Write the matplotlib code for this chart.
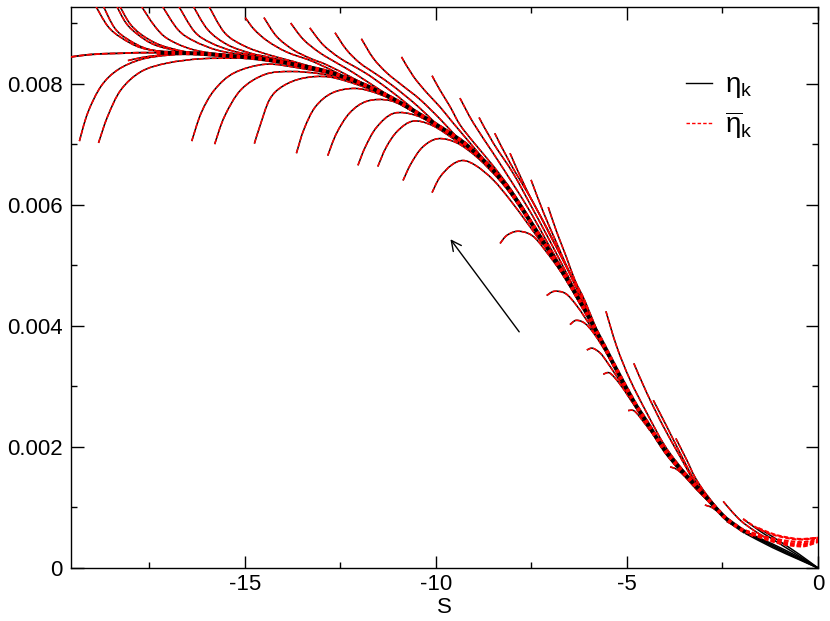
import matplotlib
matplotlib.use("Agg")
import numpy as np
import matplotlib.pyplot as plt
from matplotlib.lines import Line2D
from matplotlib.path import Path
from matplotlib.patches import PathPatch

plt.rcParams['font.family'] = ['Liberation Sans', 'DejaVu Sans']
plt.rcParams['axes.unicode_minus'] = False
plt.rcParams['mathtext.fontset'] = 'custom'
plt.rcParams['mathtext.rm'] = 'Liberation Sans'
plt.rcParams['mathtext.it'] = 'Liberation Sans'
plt.rcParams['mathtext.bf'] = 'Liberation Sans:bold'

# ---------------- data (s, eta) ----------------
x_ticks = [-15, -10, -5, 0]
x_tick_labels = ['-15', '-10', '-5', '0']
y_ticks = [0, 0.002, 0.004, 0.006, 0.008]
y_tick_labels = ['0', '0.002', '0.004', '0.006', '0.008']
legend_labels = [r'$\eta_k$', r'$\overline{\eta}_k$']
x_label = 'S'

master_left = [(-19.55, 0.00844), (-19.2, 0.00847), (-18.8, 0.00849), (-18.3, 0.0085),
               (-17.8, 0.00851), (-17.3, 0.00851)]
master = [(-17.3, 0.00851), (-16.36, 0.0085), (-15.47, 0.00846), (-14.61, 0.00841),
          (-13.74, 0.00832), (-12.86, 0.0082), (-11.99, 0.00801), (-11.12, 0.00775),
          (-10.24, 0.00742), (-9.37, 0.00707), (-8.94, 0.00684), (-8.5, 0.00657),
          (-8.06, 0.00623), (-7.63, 0.00582), (-7.28, 0.00548), (-6.93, 0.00513),
          (-6.41, 0.0046), (-5.79, 0.0039), (-5.36, 0.00338), (-4.84, 0.00277),
          (-4.48, 0.00241), (-3.95, 0.00189), (-3.35, 0.00146), (-2.9, 0.00115),
          (-2.48, 0.00086), (-2.2, 0.00072), (-1.9, 0.00059)]

# upper branches (start above the attractor)
U01 = [(-18.92, 0.0093), (-18.59, 0.00895), (-18.24, 0.00876), (-17.71, 0.00859), (-17.02, 0.00852), (-16.4, 0.0085)]
U02 = [(-18.72, 0.0093), (-18.41, 0.00892), (-18.06, 0.00873), (-17.54, 0.00857), (-16.84, 0.00851), (-16.2, 0.00849)]
U03 = [(-18.37, 0.0093), (-18.11, 0.009), (-17.8, 0.00881), (-17.36, 0.00864), (-16.67, 0.00853), (-16.0, 0.00849)]
U04 = [(-18.29, 0.0093), (-18.02, 0.009), (-17.71, 0.00881), (-17.23, 0.00864), (-16.58, 0.00853), (-15.9, 0.00848)]
U05 = [(-17.73, 0.0093), (-17.36, 0.00895), (-17.02, 0.00874), (-16.41, 0.00857), (-15.71, 0.00849), (-15.0, 0.00845)]
U06 = [(-17.18, 0.0093), (-16.75, 0.00889), (-16.32, 0.0087), (-15.71, 0.00855), (-15.01, 0.00847), (-14.3, 0.00839)]
U07 = [(-16.75, 0.0093), (-16.32, 0.00886), (-15.88, 0.00867), (-15.27, 0.00853), (-14.57, 0.00845), (-13.9, 0.00836)]
U08 = [(-16.37, 0.0093), (-15.97, 0.00889), (-15.45, 0.00864), (-14.84, 0.0085), (-14.4, 0.00844), (-13.6, 0.00832)]
U09 = [(-15.96, 0.0093), (-15.53, 0.00884), (-15.01, 0.00862), (-14.4, 0.00848), (-13.7, 0.00836), (-13.0, 0.00823)]
U10 = [(-14.99, 0.00909), (-14.75, 0.00889), (-14.4, 0.0087), (-13.9, 0.00852), (-13.2, 0.00836), (-12.5, 0.00815)]
U11 = [(-14.5, 0.00909), (-14.17, 0.00878), (-13.74, 0.00856), (-13.3, 0.00842), (-12.86, 0.00831), (-12.2, 0.0081), (-11.6, 0.0079)]
U12 = [(-13.8, 0.009), (-13.47, 0.00873), (-13.04, 0.00851), (-12.51, 0.00831), (-12.16, 0.00818), (-11.5, 0.00791), (-11.0, 0.00771)]
U13 = [(-13.3, 0.00892), (-12.95, 0.00864), (-12.51, 0.00842), (-11.99, 0.00823), (-11.64, 0.00809), (-11.0, 0.00779), (-10.5, 0.00753)]
U14 = [(-12.64, 0.00884), (-12.34, 0.00856), (-11.99, 0.00834), (-11.55, 0.00815), (-11.12, 0.00796), (-10.5, 0.00764), (-10.0, 0.00734)]
U15 = [(-11.95, 0.00874), (-11.64, 0.00842), (-11.29, 0.00818), (-10.86, 0.00796), (-10.42, 0.00774), (-9.9, 0.00742), (-9.4, 0.00708)]
U16 = [(-10.9, 0.00844), (-10.59, 0.00812), (-10.24, 0.00785), (-9.9, 0.00762), (-9.55, 0.00735), (-9.0, 0.00694), (-8.6, 0.00664)]
U17 = [(-10.1, 0.00813), (-9.9, 0.0079), (-9.63, 0.00762), (-9.37, 0.00732), (-9.0, 0.00702), (-8.5, 0.00664), (-8.0, 0.00622), (-7.5, 0.00573)]
U18 = [(-9.37, 0.00776), (-9.02, 0.00735), (-8.5, 0.00685), (-8.0, 0.00636), (-7.5, 0.00585), (-7.0, 0.00528), (-6.5, 0.00473)]
U19 = [(-8.87, 0.00744), (-8.5, 0.00702), (-7.98, 0.00652), (-7.5, 0.00597), (-7.0, 0.00538), (-6.5, 0.00477), (-6.0, 0.00416)]
U20 = [(-8.46, 0.00718), (-8.06, 0.00669), (-7.45, 0.00603), (-7.0, 0.00548), (-6.6, 0.005), (-6.3, 0.00462), (-5.9, 0.00403)]
U21 = [(-8.06, 0.00685), (-7.63, 0.00625), (-7.1, 0.00562), (-6.7, 0.00512), (-6.35, 0.00466), (-5.9, 0.00404)]
U22 = [(-7.51, 0.00641), (-7.19, 0.00588), (-6.85, 0.00538), (-6.5, 0.00488), (-6.2, 0.0045), (-5.8, 0.00392)]
U23 = [(-7.06, 0.00596), (-6.85, 0.00557), (-6.6, 0.00516), (-6.36, 0.00475), (-6.1, 0.00441), (-5.7, 0.00379)]
U24 = [(-5.55, 0.00424), (-5.27, 0.00366), (-4.92, 0.00311), (-4.48, 0.00256), (-4.0, 0.00201), (-3.5, 0.00159)]
U25 = [(-4.82, 0.00338), (-4.48, 0.00289), (-4.05, 0.00234), (-3.61, 0.00184), (-3.2, 0.00139), (-2.8, 0.00109)]
U26 = [(-4.31, 0.00277), (-3.96, 0.00234), (-3.61, 0.0019), (-3.26, 0.00148), (-2.9, 0.00118)]
U27 = [(-3.72, 0.00214), (-3.44, 0.00179), (-3.22, 0.0015), (-2.95, 0.00124), (-2.6, 0.00096)]
U28 = [(-2.48, 0.0011), (-2.25, 0.00093), (-2.0, 0.00077), (-1.7, 0.00063), (-1.4, 0.00051)]

# lower branches (start below the attractor)
L00 = [(-18.06, 0.00838), (-17.7, 0.00843), (-17.2, 0.00847), (-16.6, 0.00849)]
L01 = [(-19.33, 0.00705), (-19.11, 0.00752), (-18.76, 0.00796), (-18.32, 0.00823), (-17.71, 0.0084), (-17.0, 0.00847), (-16.3, 0.00849)]
L02 = [(-18.83, 0.00702), (-18.59, 0.00746), (-18.24, 0.0079), (-17.71, 0.0082), (-17.02, 0.00834), (-16.15, 0.00841), (-15.2, 0.00842)]
L03 = [(-16.39, 0.00705), (-16.14, 0.00752), (-15.79, 0.0079), (-15.27, 0.00818), (-14.45, 0.00832), (-13.6, 0.00826), (-12.8, 0.00817)]
L04 = [(-15.79, 0.007), (-15.53, 0.00746), (-15.1, 0.0079), (-14.48, 0.00815), (-13.8, 0.0082), (-13.0, 0.00816), (-12.3, 0.00806), (-11.7, 0.00792)]
L05 = [(-14.75, 0.00701), (-14.61, 0.00729), (-14.35, 0.00774), (-14.0, 0.00796), (-13.47, 0.00809), (-12.8, 0.00811), (-12.0, 0.00797), (-11.3, 0.00779)]
L06 = [(-13.65, 0.00685), (-13.45, 0.00725), (-13.15, 0.00762), (-12.7, 0.00785), (-12.1, 0.00792), (-11.5, 0.00783), (-10.9, 0.00765), (-10.3, 0.00742)]
L07 = [(-12.83, 0.00681), (-12.6, 0.00718), (-12.25, 0.00752), (-11.8, 0.00771), (-11.2, 0.00772), (-10.6, 0.00754), (-10.0, 0.00731), (-9.4, 0.00707)]
L08 = [(-12.04, 0.00665), (-11.85, 0.00695), (-11.55, 0.00728), (-11.1, 0.00751), (-10.5, 0.00747), (-9.9, 0.00726), (-9.3, 0.00701), (-8.8, 0.00675)]
L09 = [(-11.52, 0.00663), (-11.3, 0.00695), (-11.0, 0.00722), (-10.6, 0.00738), (-10.1, 0.00731), (-9.5, 0.00707), (-8.9, 0.0068), (-8.4, 0.00648)]
L10 = [(-10.86, 0.0064), (-10.65, 0.00668), (-10.35, 0.00695), (-9.95, 0.00709), (-9.45, 0.00702), (-8.9, 0.00677), (-8.3, 0.00638), (-7.8, 0.00597)]
L11 = [(-10.1, 0.0062), (-9.9, 0.00645), (-9.6, 0.00665), (-9.29, 0.00673), (-8.94, 0.00664), (-8.5, 0.00641), (-8.06, 0.00608), (-7.6, 0.00569), (-7.2, 0.00534)]
L12 = [(-8.32, 0.00536), (-8.15, 0.00549), (-7.89, 0.00556), (-7.6, 0.00553), (-7.36, 0.00542), (-6.93, 0.00507), (-6.58, 0.00475), (-6.2, 0.00433)]
L13 = [(-7.1, 0.0045), (-6.9, 0.00457), (-6.6, 0.00453), (-6.3, 0.00432), (-5.95, 0.00399), (-5.6, 0.00363), (-5.2, 0.00318)]
L14 = [(-6.49, 0.00402), (-6.33, 0.00409), (-6.1, 0.00404), (-5.85, 0.00386), (-5.5, 0.00351), (-5.1, 0.00305)]
L15 = [(-6.05, 0.0036), (-5.9, 0.00363), (-5.7, 0.00355), (-5.53, 0.00341), (-5.18, 0.00308), (-4.92, 0.00282), (-4.6, 0.0025)]
L16 = [(-5.62, 0.0032), (-5.45, 0.00322), (-5.2, 0.00305), (-4.95, 0.00282), (-4.7, 0.00258), (-4.4, 0.00227)]
L17 = [(-4.97, 0.0026), (-4.8, 0.00259), (-4.55, 0.0024), (-4.3, 0.00219), (-4.0, 0.00191), (-3.7, 0.00167)]
L18 = [(-3.87, 0.00167), (-3.7, 0.00163), (-3.5, 0.00152), (-3.2, 0.00131), (-2.9, 0.00112)]
L19 = [(-2.96, 0.00104), (-2.75, 0.00099), (-2.5, 0.00086), (-2.2, 0.0007)]
L20 = [(-2.39, 0.00077), (-2.2, 0.0007), (-1.95, 0.00061), (-1.7, 0.00052)]

# end of the flow: eta_k (black) goes to zero, eta-bar_k (red) turns up
end_black_1 = [(-1.9, 0.0006), (-1.2, 0.0004), (-0.5, 0.00018), (0.0, 0.0)]
end_black_2 = [(-1.9, 0.00059), (-1.2, 0.00038), (-0.5, 0.00016), (0.0, 0.0)]
end_black_3 = [(-1.9, 0.00058), (-1.2, 0.00036), (-0.5, 0.00015), (0.0, 0.0)]
end_black_4 = [(-1.9, 0.00057), (-1.2, 0.00034), (-0.5, 0.00014), (0.0, 0.0)]
end_black_5 = [(-1.96, 0.00081), (-1.7, 0.00069), (-1.4, 0.00056), (-1.0, 0.0004), (-0.5, 0.0002), (0.0, 0.0)]
end_black_6 = [(-1.56, 0.00066), (-1.3, 0.00056), (-1.0, 0.00044), (-0.5, 0.00023), (0.0, 0.0)]
end_red_1 = [(-1.9, 0.0006), (-1.5, 0.0005), (-1.1, 0.00042), (-0.7, 0.00037), (-0.35, 0.00036), (0.0, 0.00043)]
end_red_2 = [(-1.9, 0.00061), (-1.5, 0.00051), (-1.1, 0.00044), (-0.7, 0.00039), (-0.35, 0.00038), (0.0, 0.00045)]
end_red_3 = [(-1.9, 0.00062), (-1.5, 0.00053), (-1.1, 0.00046), (-0.7, 0.00041), (-0.35, 0.0004), (0.0, 0.00047)]
end_red_4 = [(-1.9, 0.00062), (-1.5, 0.00054), (-1.1, 0.00048), (-0.7, 0.00044), (-0.35, 0.00043), (0.0, 0.00049)]
end_red_5 = [(-1.96, 0.00081), (-1.7, 0.0007), (-1.4, 0.0006), (-1.0, 0.00052), (-0.5, 0.00047), (0.0, 0.0005)]
end_red_6 = [(-1.56, 0.00066), (-1.3, 0.00059), (-1.0, 0.00053), (-0.5, 0.00048), (0.0, 0.0005)]

arrow_tail = (-7.82, 0.0039)
arrow_head = (-9.62, 0.00543)

# ---------------- figure ----------------
fig = plt.figure(figsize=(8.3, 6.21), dpi=100)
ax = fig.add_axes([71 / 830, 1 - 568 / 621, (818 - 71) / 830, (568 - 7.3) / 621])
ax.set_xlim(-19.55, 0)
ax.set_ylim(0, 0.00926)

RED = '#ff0000'
thin_lw = 1.1
red_dash = (3.2, 1.1)


def smooth_path(pts):
    """Smooth (Catmull-Rom style Bezier) path through the read points."""
    P = np.asarray(pts, dtype=float)
    n = len(P)
    verts = [P[0]]
    codes = [Path.MOVETO]
    for i in range(n - 1):
        p0 = P[i - 1] if i > 0 else P[i]
        p1 = P[i]
        p2 = P[i + 1]
        p3 = P[i + 2] if i + 2 < n else P[i + 1]
        verts += [p1 + (p2 - p0) / 6.0, p2 - (p3 - p1) / 6.0, p2]
        codes += [Path.CURVE4] * 3
    return Path(verts, codes)


def curve(pts, color, lw, dashes=None, z=2):
    ls = '-' if dashes is None else (0, dashes)
    ax.add_patch(PathPatch(smooth_path(pts), fill=False, edgecolor=color, lw=lw,
                           linestyle=ls, capstyle='butt', joinstyle='round', zorder=z))


def branch(pts, black=True, red=True, lw=thin_lw):
    if black:
        curve(pts, 'black', lw, None, 2)
    if red:
        curve(pts, RED, lw, red_dash, 3)


branches = [U01, U02, U03, U04, U05, U06, U07, U08, U09, U10, U11, U12, U13, U14,
            U15, U16, U17, U18, U19, U20, U21, U22, U23, U24, U25, U26, U27, U28,
            L00, L01, L02, L03, L04, L05, L06, L07, L08, L09, L10, L11, L12, L13,
            L14, L15, L16, L17, L18, L19, L20]
for b in branches:
    branch(b)

for b in [end_black_1, end_black_2, end_black_3, end_black_4, end_black_5, end_black_6]:
    branch(b, red=False)
for b in [end_red_1, end_red_2, end_red_3, end_red_4, end_red_5, end_red_6]:
    curve(b, RED, 1.5, (2.2, 1.0), 3)

# attractor: left thin part and thick bundle
branch(master_left, lw=1.3)
curve(master, 'black', 2.9, None, 4)
curve(master, RED, 2.9, (0.9, 0.9), 5)

ax.annotate('', xy=arrow_head, xytext=arrow_tail,
            arrowprops=dict(arrowstyle='->', color='black', lw=1.0,
                            mutation_scale=18, shrinkA=0, shrinkB=0))

ax.set_xticks(x_ticks, x_tick_labels)
ax.set_yticks(y_ticks, y_tick_labels)
ax.set_xticks([-17.5, -12.5, -7.5, -2.5], minor=True)
ax.set_yticks([0.001, 0.003, 0.005, 0.007, 0.009], minor=True)
ax.tick_params(which='both', direction='in', top=True, right=True, width=1.0,
               labelsize=16, color='black')
ax.tick_params(which='major', length=9)
ax.tick_params(which='minor', length=4.5)
ax.tick_params(axis='x', pad=4)
ax.tick_params(axis='y', pad=6)
for sp in ax.spines.values():
    sp.set_linewidth(1.0)
ax.set_xlabel(x_label, fontsize=16, labelpad=2)

handles = [Line2D([], [], color='black', lw=1.0),
           Line2D([], [], color=RED, lw=1.0, dashes=(2.5, 1.5))]
ax.legend(handles, legend_labels, loc='upper left', bbox_to_anchor=(0.823, 0.884),
          frameon=False, fontsize=20, handlelength=0.95, handletextpad=0.45,
          labelspacing=0.32, borderpad=0, borderaxespad=0)

fig.savefig('out.png', dpi=100)
